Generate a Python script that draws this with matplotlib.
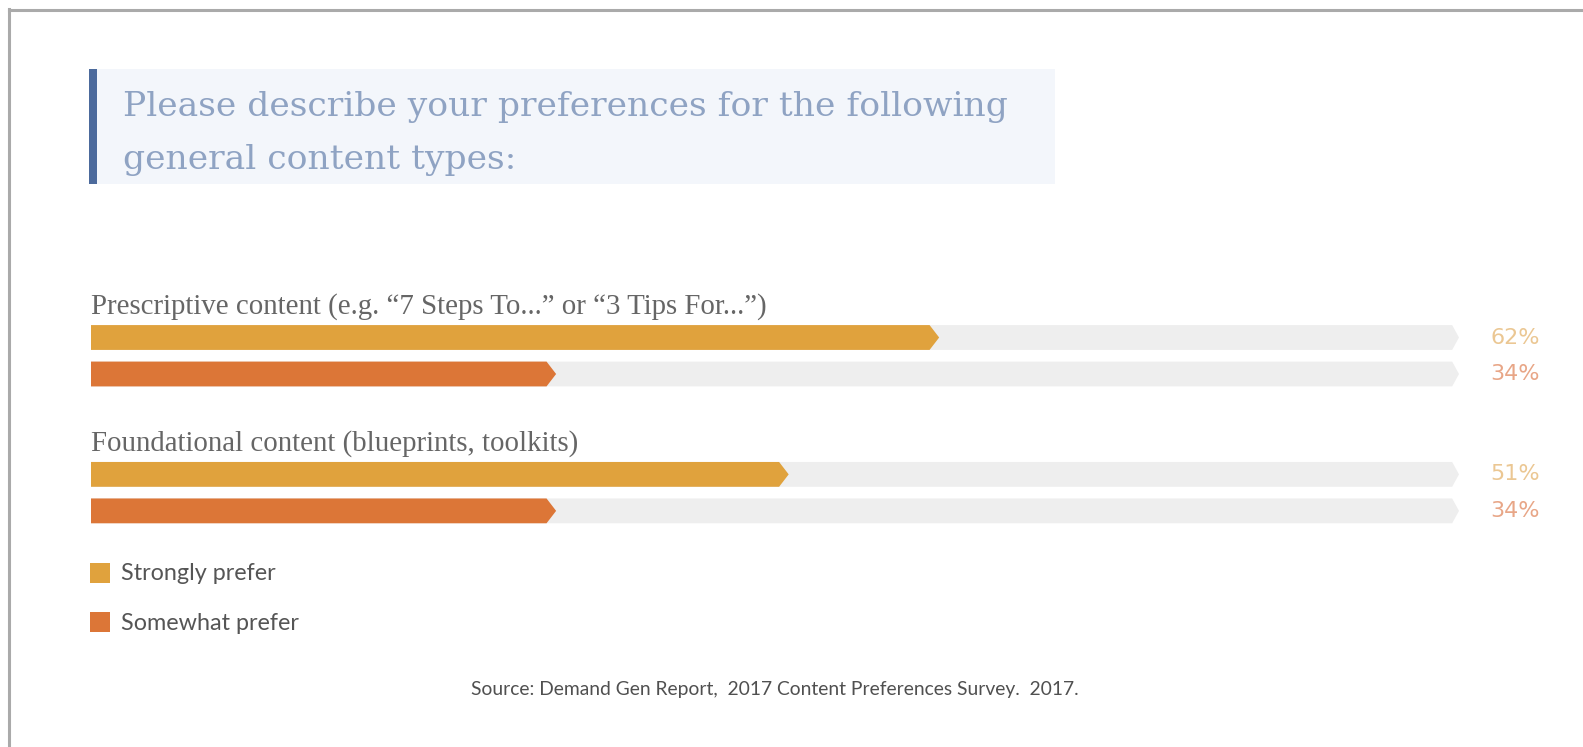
import matplotlib
matplotlib.use("Agg")
import matplotlib.pyplot as plt
from matplotlib.patches import Polygon, Rectangle
from matplotlib.lines import Line2D

W, H = 1583, 747

title_lines = ["Please describe your preferences for the following",
               "general content types:"]
groups = ["Prescriptive content (e.g. \u201c7 Steps To...\u201d or \u201c3 Tips For...\u201d)",
          "Foundational content (blueprints, toolkits)"]
series = ["Strongly prefer", "Somewhat prefer"]
strongly = [62, 51]
somewhat = [34, 34]
source = "Source: Demand Gen Report,  2017 Content Preferences Survey.  2017."

bar_colors = ["#E0A23D", "#DC7637"]
pct_colors = ["#EBC793", "#E8A687"]
track_color = "#EEEEEE"


def fx(x):
    return x / W


def fy(y):
    return 1 - y / H


def arrow_bar(ax, val, yc, h, color, tip=0.7, z=2):
    # flat bar with a small pointed end at val
    pts = [(0, yc - h / 2), (val - tip, yc - h / 2), (val, yc),
           (val - tip, yc + h / 2), (0, yc + h / 2)]
    ax.add_patch(Polygon(pts, closed=True, fc=color, ec="none", zorder=z))


fig = plt.figure(figsize=(W / 100, H / 100), dpi=100)
fig.patch.set_facecolor("white")

# frame lines on the left and top
fig.add_artist(Line2D([fx(9), fx(9)], [0, fy(9)], color="#AAAAAA", lw=2.2))
fig.add_artist(Line2D([fx(9), 1], [fy(9.5), fy(9.5)], color="#AAAAAA", lw=2.2))

# question box
fig.add_artist(Rectangle((fx(89), fy(184)), fx(1055) - fx(89), fy(69) - fy(184),
                         transform=fig.transFigure, fc="#F3F6FB", ec="none"))
fig.add_artist(Rectangle((fx(89), fy(184)), fx(97) - fx(89), fy(69) - fy(184),
                         transform=fig.transFigure, fc="#4C6A9C", ec="none"))
for line, base in zip(title_lines, [116, 169]):
    fig.text(fx(123), fy(base), line, fontsize=24.8, family="DejaVu Serif",
             color="#8FA3C3", va="baseline", ha="left")

# bars
ax = fig.add_axes([fx(91), fy(538.25), fx(1459) - fx(91), fy(282.75) - fy(538.25)])
ax.set_xlim(0, 100)
ax.set_ylim(5.5, -1.5)
ax.axis("off")

bar_h = 0.68
group_pos = [0, 3.75]
for g, name in enumerate(groups):
    base = group_pos[g]
    ax.text(0, base - 0.64, name, fontsize=20.8, family="Liberation Serif",
            color="#666666", ha="left", va="baseline")
    for s, vals in enumerate([strongly, somewhat]):
        yc = base + s
        arrow_bar(ax, 100, yc, bar_h, track_color, tip=0.5, z=1)
        arrow_bar(ax, vals[g], yc, bar_h, bar_colors[s])
        ax.text(105.9, yc, f"{vals[g]}%", fontsize=16, family="DejaVu Sans",
                color=pct_colors[s], ha="right", va="center", clip_on=False)

# legend
for s, (name, top) in enumerate(zip(series, [563, 612])):
    fig.add_artist(Rectangle((fx(90), fy(top + 20)), fx(20), 20 / H,
                             transform=fig.transFigure, fc=bar_colors[s], ec="none"))
    fig.text(fx(121), fy(top + 11), name, fontsize=16.8, family="Lato",
             color="#555555", ha="left", va="center")

fig.text(fx(775), fy(690), source, fontsize=13.9, family="Lato",
         color="#505050", ha="center", va="center")

fig.savefig("out.png", dpi=100, facecolor="white")
